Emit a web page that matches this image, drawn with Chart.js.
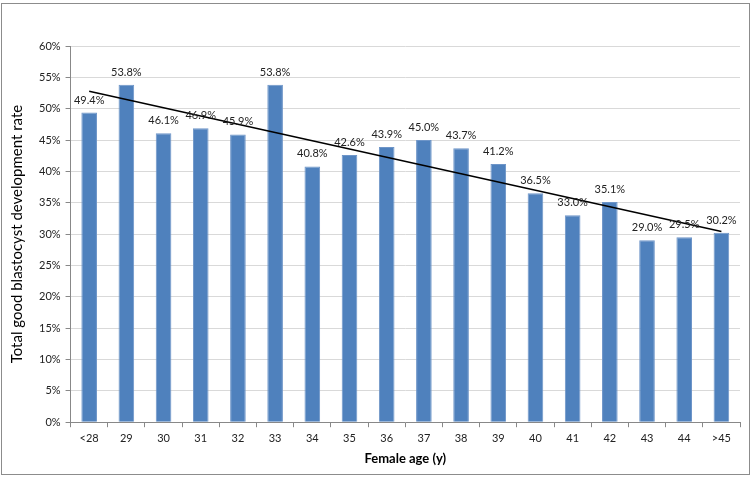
<!DOCTYPE html>
<html>
<head>
<meta charset="utf-8">
<script src="https://cdn.jsdelivr.net/npm/chart.js@4"></script>
<style>
  html, body { margin: 0; padding: 0; background: #fff; }
  #wrap { width: 752px; height: 478px; position: relative; }
</style>
</head>
<body>
<div id="wrap"><canvas id="ageChart" width="752" height="478"></canvas></div>
<script>
const ages = ["<28", "29", "30", "31", "32", "33", "34", "35", "36", "37", "38", "39", "40", "41", "42", "43", "44", ">45"];
const rates = [49.4, 53.8, 46.1, 46.9, 45.9, 53.8, 40.8, 42.6, 43.9, 45.0, 43.7, 41.2, 36.5, 33.0, 35.1, 29.0, 29.5, 30.2];
const trendStart = 52.8;
const trendEnd = 30.4;
const yTicks = [0, 5, 10, 15, 20, 25, 30, 35, 40, 45, 50, 55, 60];

// trend line only has its two end points, the rest is spanned
const trend = ages.map(function (a, i) {
    if (i === 0) return trendStart;
    if (i === ages.length - 1) return trendEnd;
    return null;
});

const FONT = "Lato, 'Open Sans', sans-serif";

const frame = {
    id: "frame",
    beforeDraw: function (chart) {
        const c = chart.ctx;
        c.save();
        c.fillStyle = "#fff";
        c.fillRect(0, 0, chart.width, chart.height);
        c.strokeStyle = "#8c8c8c";
        c.lineWidth = 1;
        c.strokeRect(1.5, 3.5, 748, 471);
        c.restore();
    }
};

const barLabels = {
    id: "barLabels",
    afterDatasetsDraw: function (chart) {
        const c = chart.ctx;
        const meta = chart.getDatasetMeta(0);
        c.save();
        c.font = "11px " + FONT;
        c.fillStyle = "#222";
        c.textAlign = "center";
        c.textBaseline = "bottom";
        meta.data.forEach(function (bar, i) {
            c.fillText(rates[i].toFixed(1) + "%", bar.x, bar.y - 7);
        });
        c.restore();
    }
};

new Chart(document.getElementById("ageChart").getContext("2d"), {
    type: "bar",
    data: {
        labels: ages,
        datasets: [
            {
                label: "rate",
                data: rates,
                backgroundColor: "#4f81bd",
                borderColor: "#6e95c8",
                borderWidth: 1,
                barPercentage: 0.42,
                categoryPercentage: 1,
                order: 2
            },
            {
                type: "line",
                label: "trend",
                data: trend,
                spanGaps: true,
                borderColor: "#000",
                borderWidth: 1.5,
                pointRadius: 0,
                fill: false,
                order: 1
            }
        ]
    },
    options: {
        responsive: false,
        animation: false,
        layout: { padding: { left: 8, right: 12, top: 46, bottom: 11 } },
        plugins: {
            legend: { display: false },
            tooltip: { enabled: false }
        },
        scales: {
            x: {
                grid: { drawOnChartArea: false, drawTicks: true, tickLength: 5, color: "#888" },
                border: { color: "#888" },
                ticks: { font: { family: FONT, size: 11 }, color: "#222", padding: 5, maxRotation: 0, autoSkip: false },
                title: {
                    display: true,
                    text: "Female age (y)",
                    font: { family: FONT, size: 13, weight: "bold" },
                    color: "#000",
                    padding: { top: 1, bottom: 0 }
                }
            },
            y: {
                min: 0,
                max: 60,
                afterBuildTicks: function (axis) {
                    axis.ticks = yTicks.map(function (v) { return { value: v }; });
                },
                grid: { color: "#d9d9d9", tickColor: "#888", tickLength: 5 },
                border: { color: "#888" },
                ticks: {
                    font: { family: FONT, size: 11 },
                    color: "#222",
                    padding: 5,
                    callback: function (v) { return v + "%"; }
                },
                title: {
                    display: true,
                    text: "Total good blastocyst development rate",
                    font: { family: FONT, size: 15 },
                    color: "#000",
                    padding: { top: 0, bottom: 8 }
                }
            }
        }
    },
    plugins: [frame, barLabels]
});
</script>
</body>
</html>
